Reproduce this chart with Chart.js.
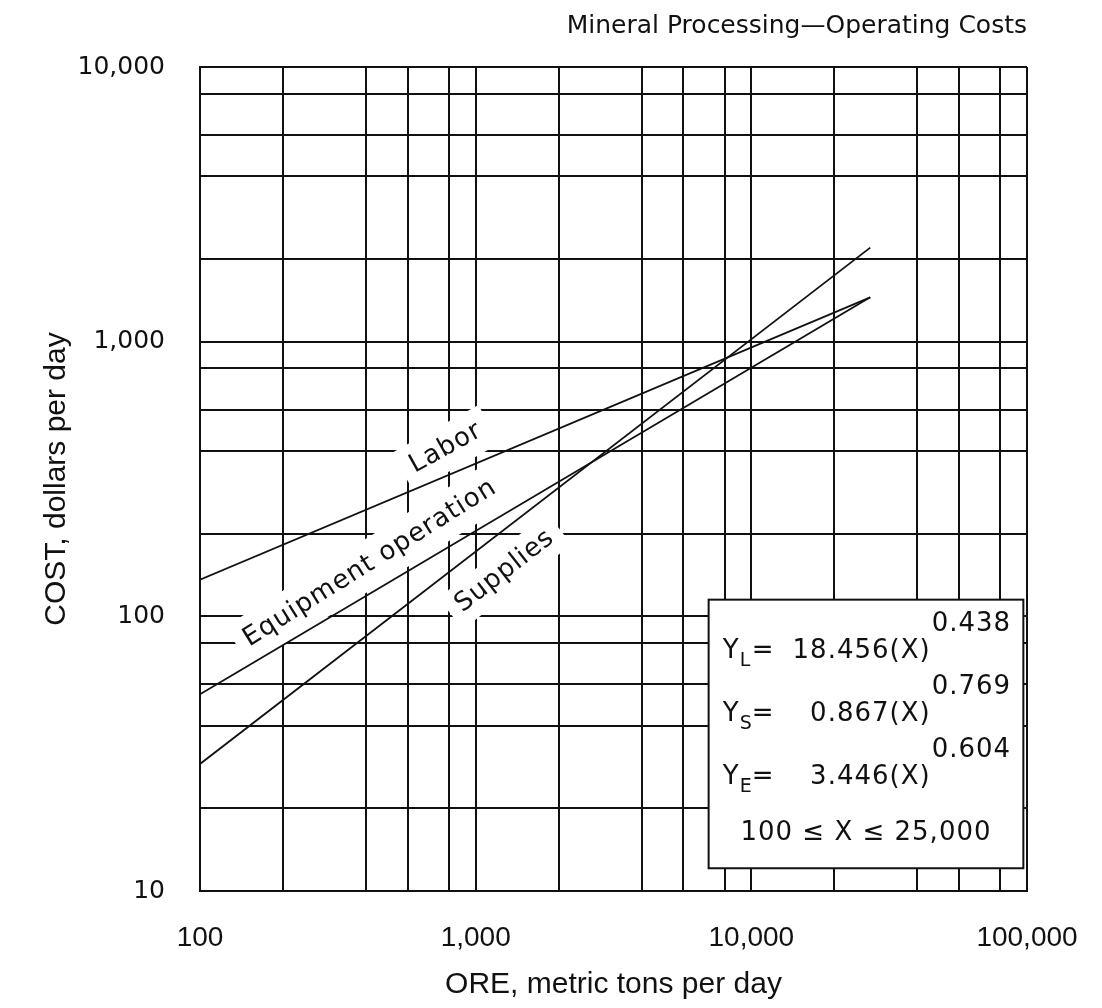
<!DOCTYPE html>
<html>
<head>
<meta charset="utf-8">
<script src="https://cdn.jsdelivr.net/npm/chart.js@4.4.1/dist/chart.umd.min.js"></script>
<style>
  html, body { margin: 0; padding: 0; background: #fff; }
</style>
</head>
<body>
<canvas id="costChart" width="1102" height="1008"></canvas>
<script>
// values (ore t/day vs cost $/day)
const oreTons = [100, 27000];
const laborCost = [136, 1450];
const equipmentCost = [52, 1450];
const suppliesCost = [29, 2200];

// grid lines (the "6" lines sit halfway between 4 and 8 on the original)
const xGridValues = [100, 200, 400, 566, 800, 1000, 2000, 4000, 5660, 8000, 10000, 20000, 40000, 56600, 80000, 100000];
const yGridValues = [10, 20, 40, 56.6, 80, 100, 200, 400, 566, 800, 1000, 2000, 4000, 5660, 8000, 10000];
const xTickLabels = [100, 1000, 10000, 100000];
const yTickLabels = [10, 100, 1000, 10000];

const seriesNames = ['Labor', 'Equipment operation', 'Supplies'];
const eqSubscripts = ['L', 'S', 'E'];
const eqCoefficients = ['18.456', '0.867', '3.446'];
const eqExponents = ['0.438', '0.769', '0.604'];
const eqRange = '100 \u2264 X \u2264 25,000';

const PLOTTER = "'DejaVu Sans', sans-serif";
const HELV = "'Liberation Sans', Arial, sans-serif";
const INK = '#111';

// where the curve names sit (data units) and how they lean
const nameSpots = [
    { x: 780, y: 410, angle: -29, h: 44 },
    { x: 414, y: 156, angle: -32, h: 46 },
    { x: 1277, y: 146, angle: -38, h: 40 }
];

const curveNames = {
    id: 'curveNames',
    beforeDatasetsDraw(chart) {
        const { ctx, scales: { x, y } } = chart;
        ctx.save();
        ctx.letterSpacing = '1px';
        ctx.font = '26px ' + PLOTTER;
        seriesNames.forEach((name, i) => {
            const s = nameSpots[i];
            const px = x.getPixelForValue(s.x);
            const py = y.getPixelForValue(s.y);
            const w = ctx.measureText(name).width + 20;
            ctx.save();
            ctx.translate(px, py);
            ctx.rotate(s.angle * Math.PI / 180);
            ctx.fillStyle = '#fff';
            ctx.fillRect(-w / 2, -s.h / 2, w, s.h);
            ctx.fillStyle = INK;
            ctx.textAlign = 'center';
            ctx.textBaseline = 'middle';
            ctx.fillText(name, 0, 0);
            ctx.restore();
        });
        ctx.restore();
    }
};

const equationBox = {
    id: 'equationBox',
    afterDatasetsDraw(chart) {
        const { ctx, scales: { x, y } } = chart;
        const left = x.getPixelForValue(7000);
        const right = x.getPixelForValue(97000);
        const top = y.getPixelForValue(115);
        const bottom = y.getPixelForValue(12.1);

        ctx.save();
        ctx.letterSpacing = '1px';
        ctx.fillStyle = '#fff';
        ctx.fillRect(left, top, right - left, bottom - top);
        ctx.strokeStyle = INK;
        ctx.lineWidth = 2;
        ctx.strokeRect(left, top, right - left, bottom - top);

        ctx.fillStyle = INK;
        ctx.textBaseline = 'middle';
        eqSubscripts.forEach((sub, i) => {
            const rowY = top + 52 + i * 63;
            ctx.textAlign = 'left';
            ctx.font = '26px ' + PLOTTER;
            ctx.fillText('Y', left + 14, rowY);
            ctx.font = '19px ' + PLOTTER;
            ctx.fillText(sub, left + 31, rowY + 9);
            ctx.font = '26px ' + PLOTTER;
            ctx.fillText('=', left + 43, rowY);
            ctx.textAlign = 'right';
            ctx.fillText(eqCoefficients[i] + '(X)', left + 222, rowY);
            ctx.textAlign = 'left';
            ctx.fillText(eqExponents[i], left + 223, rowY - 27);
        });
        ctx.textAlign = 'center';
        ctx.font = '26px ' + PLOTTER;
        ctx.fillText(eqRange, (left + right) / 2, top + 234);
        ctx.restore();
    }
};

const makeSeries = (name, values) => ({
    label: name,
    data: oreTons.map((t, i) => ({ x: t, y: values[i] })),
    showLine: true,
    borderColor: INK,
    borderWidth: 1.8,
    pointRadius: 0,
    fill: false
});

new Chart(document.getElementById('costChart'), {
    type: 'scatter',
    data: {
        datasets: [
            makeSeries(seriesNames[0], laborCost),
            makeSeries(seriesNames[1], equipmentCost),
            makeSeries(seriesNames[2], suppliesCost)
        ]
    },
    options: {
        responsive: false,
        animation: false,
        devicePixelRatio: 1,
        layout: { padding: { left: 40, right: 75, top: 0, bottom: 0 } },
        plugins: {
            legend: { display: false },
            tooltip: { enabled: false },
            title: {
                display: true,
                text: 'Mineral Processing\u2014Operating Costs',
                align: 'end',
                color: INK,
                font: { family: PLOTTER, size: 25, weight: 'normal', lineHeight: 1.2 },
                padding: { top: 11, bottom: 26 }
            }
        },
        scales: {
            x: {
                type: 'logarithmic',
                min: 100,
                max: 100000,
                afterBuildTicks: (scale) => { scale.ticks = xGridValues.map(v => ({ value: v })); },
                afterFit: (scale) => {
                    scale.height = 117;
                    scale.paddingLeft = 0;
                    scale.paddingRight = 0;
                },
                grid: { color: INK, lineWidth: 2, drawTicks: false },
                border: { color: INK, width: 2 },
                ticks: {
                    autoSkip: false,
                    maxRotation: 0,
                    padding: 30,
                    color: INK,
                    font: { family: HELV, size: 28 },
                    callback: (v) => xTickLabels.includes(v) ? v.toLocaleString('en-US') : ''
                },
                title: {
                    display: true,
                    text: 'ORE, metric tons per day',
                    color: INK,
                    font: { family: HELV, size: 30, lineHeight: 1 },
                    padding: { top: 0, bottom: 8 }
                }
            },
            y: {
                type: 'logarithmic',
                min: 10,
                max: 10000,
                afterBuildTicks: (scale) => { scale.ticks = yGridValues.map(v => ({ value: v })); },
                afterFit: (scale) => {
                    scale.width = 160;
                    scale.paddingTop = 0;
                    scale.paddingBottom = 0;
                },
                grid: { color: INK, lineWidth: 2, drawTicks: false },
                border: { color: INK, width: 2 },
                ticks: {
                    autoSkip: false,
                    padding: 35,
                    color: INK,
                    font: { family: PLOTTER, size: 25 },
                    callback: (v) => yTickLabels.includes(v) ? v.toLocaleString('en-US') : ''
                },
                title: {
                    display: true,
                    text: 'COST, dollars per day',
                    color: INK,
                    font: { family: HELV, size: 30, lineHeight: 1 },
                    padding: { top: 2, bottom: 0 }
                }
            }
        }
    },
    plugins: [curveNames, equationBox]
});
</script>
</body>
</html>
